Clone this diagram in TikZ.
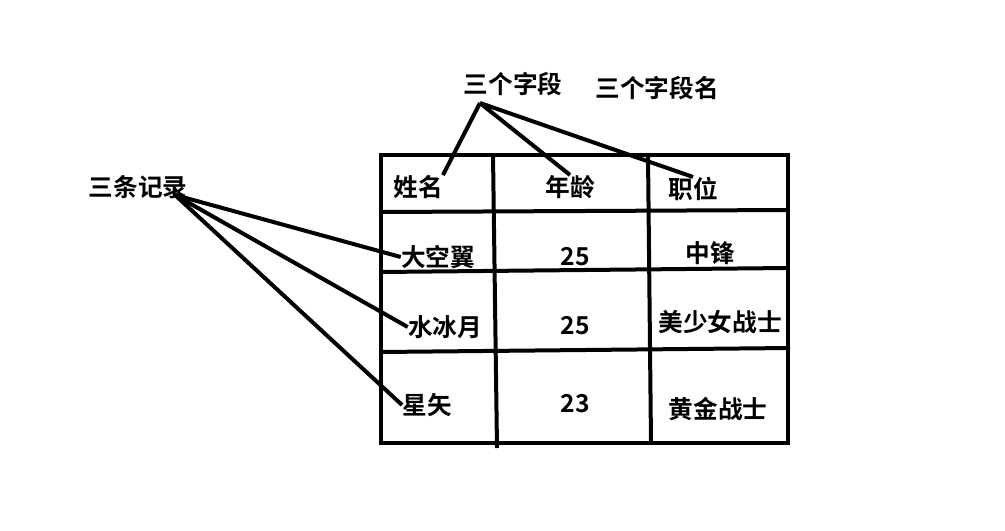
\documentclass[tikz,border=0pt]{standalone}
\usepackage{fontspec}
\newfontfamily\cjk{Noto Sans CJK SC}[BoldFont={Noto Sans CJK SC Bold}]
\tikzset{pen/.style={line width=3pt, black}}
\tikzset{cell/.style={font=\cjk\bfseries\fontsize{18.5}{18.5}\selectfont, inner sep=0pt}}
\tikzset{note/.style={cell}}
\begin{document}
\begin{tikzpicture}[x=0.75pt, y=-0.75pt]
  \useasboundingbox [fill=white] (0,0) rectangle (1005,531);
  % table frame
  \draw [pen] (381,155) rectangle (788,443);
  \draw [pen] (493,155) -- (497,448);
  \draw [pen] (648,155) -- (651,443);
  \draw [pen] (381,212) -- (788,210);
  \draw [pen] (381,272) -- (788,268);
  \draw [pen] (381,352) -- (790,348);
  % cells
  \node [cell] (h1) at (418,187) {姓名};
  \node [cell] (h2) at (570,187) {年龄};
  \node [cell] (h3) at (693,189) {职位};
  \node [cell] (r1) at (438,257) {大空翼};
  \node [cell] (a1) at (575,257) {25};
  \node [cell] (p1) at (710,253) {中锋};
  \node [cell] (r2) at (445,327) {水冰月};
  \node [cell] (a2) at (575,326) {25};
  \node [cell] (p2) at (720,322) {美少女战士};
  \node [cell] (r3) at (427,405) {星矢};
  \node [cell] (a3) at (575,404) {23};
  \node [cell] (p3) at (718,409) {黄金战士};
  % notes
  \node [note] (fields) at (513,84) {三个字段};
  \node [note] (names)  at (657,88) {三个字段名};
  \node [note] (recs)   at (138,187) {三条记录};
  \coordinate (fx) at (480,103);
  \coordinate (rx) at (175,195);
  \draw [pen] (fx) -- (h1.north east);
  \draw [pen] (fx) -- (h2.north);
  \draw [pen] (fx) -- (h3.north);
  \draw [pen] (rx) -- (r1.west);
  \draw [pen] (rx) -- (r2.west);
  \draw [pen] (rx) -- (r3.west);
\end{tikzpicture}
\end{document}
